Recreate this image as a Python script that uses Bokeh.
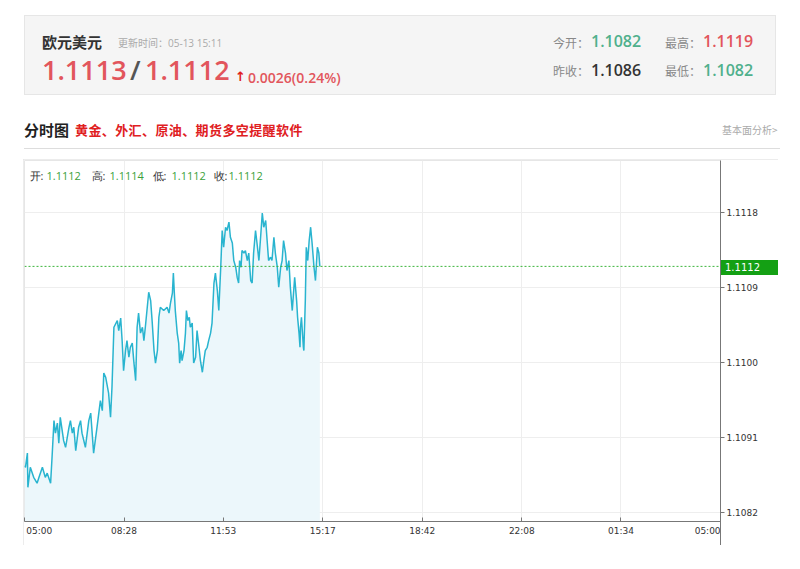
from bokeh.plotting import figure
from bokeh.models import Range1d, FixedTicker, Span, Label, Div, Spacer
from bokeh.layouts import column, row
from bokeh.embed import file_html
from bokeh.resources import INLINE

# ---------------- data ----------------
pair_name = "欧元美元"
update_time = "05-13 15:11"
bid_price = "1.1113"
ask_price = "1.1112"
change_txt = "0.0026(0.24%)"
open_today = "1.1082"
high_today = "1.1119"
prev_close = "1.1086"
low_today = "1.1082"

bar_open, bar_high, bar_low, bar_close = "1.1112", "1.1114", "1.1112", "1.1112"
last_price = 1.11115
last_price_label = "1.1112"

# minutes after 05:00
minutes = [0, 2, 6, 7, 12, 19, 26, 30, 37, 43,
           47, 54, 57, 61, 64, 68, 71, 74, 81, 85,
           92, 95, 99, 102, 106, 112, 116, 119, 126, 133,
           137, 140, 143, 150, 157, 161, 164, 168, 174, 178,
           181, 185, 192, 195, 199, 202, 205, 209, 212, 216,
           219, 223, 226, 230, 233, 236, 240, 244, 247, 250,
           257, 261, 264, 268, 271, 275, 278, 281, 288, 295,
           299, 302, 306, 308, 310, 312, 316, 319, 321, 324,
           326, 330, 333, 335, 338, 341, 343, 347, 350, 354,
           357, 361, 364, 368, 371, 374, 378, 381, 385, 388,
           392, 395, 399, 402, 406, 409, 412, 416, 419, 423,
           426, 430, 433, 437, 440, 443, 445, 448, 450, 454,
           457, 461, 464, 468, 471, 474, 478, 481, 485, 488,
           492, 495, 499, 502, 505, 509, 512, 516, 519, 523,
           526, 530, 533, 536, 540, 543, 547, 550, 554, 557,
           559, 563, 565, 568, 570, 571, 573, 577, 578, 581,
           583, 586, 589, 592, 595, 599, 602, 606, 609, 611]
prices = [1.10876, 1.10874, 1.10891, 1.10850, 1.10874, 1.10862, 1.10855, 1.10862, 1.10874, 1.10862,
          1.10867, 1.10855, 1.10886, 1.10930, 1.10915, 1.10927, 1.10903, 1.10934, 1.10906, 1.10898,
          1.10922, 1.10930, 1.10915, 1.10922, 1.10894, 1.10922, 1.10930, 1.10915, 1.10898, 1.10930,
          1.10939, 1.10915, 1.10891, 1.10922, 1.10954, 1.10942, 1.10987, 1.10982, 1.10963, 1.10934,
          1.10970, 1.11042, 1.11050, 1.11038, 1.11053, 1.11026, 1.10990, 1.11014, 1.11026, 1.11006,
          1.11018, 1.11023, 1.11002, 1.10978, 1.11042, 1.11059, 1.11035, 1.11042, 1.11026, 1.11042,
          1.11084, 1.11074, 1.11050, 1.11014, 1.10999, 1.11014, 1.11054, 1.11066, 1.11062, 1.11066,
          1.11059, 1.11071, 1.11083, 1.11107, 1.11083, 1.11062, 1.11035, 1.11023, 1.10999, 1.11014,
          1.11002, 1.11014, 1.11035, 1.11062, 1.11050, 1.11054, 1.11042, 1.11047, 1.10999, 1.11006,
          1.11038, 1.11018, 1.11002, 1.10988, 1.11002, 1.11014, 1.11018, 1.11026, 1.11035, 1.11047,
          1.11095, 1.11107, 1.11086, 1.11062, 1.11114, 1.11158, 1.11138, 1.11162, 1.11158, 1.11168,
          1.11150, 1.11143, 1.11122, 1.11114, 1.11102, 1.11095, 1.11122, 1.11114, 1.11134, 1.11131,
          1.11134, 1.11122, 1.11131, 1.11098, 1.11095, 1.11131, 1.11158, 1.11143, 1.11122, 1.11146,
          1.11179, 1.11162, 1.11170, 1.11146, 1.11122, 1.11126, 1.11122, 1.11150, 1.11131, 1.11114,
          1.11090, 1.11114, 1.11122, 1.11146, 1.11131, 1.11110, 1.11122, 1.11090, 1.11062, 1.11086,
          1.11102, 1.11074, 1.11054, 1.11035, 1.11018, 1.11042, 1.11054, 1.11018, 1.11014, 1.11074,
          1.11138, 1.11122, 1.11146, 1.11162, 1.11143, 1.11114, 1.11098, 1.11138, 1.11131, 1.11115]

x_tick_pos = [0, 206, 411, 617, 823, 1029, 1234, 1440]
x_tick_labels = ["05:00", "08:28", "11:53", "15:17", "18:42", "22:08", "01:34", "05:00"]
y_ticks = [1.1082, 1.1091, 1.1100, 1.1109, 1.1118]
y_tick_labels = ["1.1082", "1.1091", "1.1100", "1.1109", "1.1118"]
y_lo, y_hi = 1.10809, 1.11242

# ---------------- colours / fonts ----------------
RED = "#e2555c"
TEAL = "#4fb08c"
CJK = "'Noto Sans CJK SC'"
LAT = "'Open Sans','Noto Sans CJK SC',sans-serif"
NBSP = "\u00a0"


def span(left, top, text, size, color, weight="normal", lh=None, family=LAT, extra=""):
    lh = lh or int(size * 1.3)
    return (f"<span style=\"position:absolute;left:{left}px;top:{top}px;font-size:{size}px;"
            f"line-height:{lh}px;color:{color};font-weight:{weight};font-family:{family};white-space:nowrap;{extra}\">"
            f"{text}</span>")


html = [f"<div style=\"position:relative;width:792px;height:159px;font-family:{LAT};\">"]
html.append("<div style=\"position:absolute;left:24px;top:15px;width:752px;height:80px;"
            "background:#f5f5f5;border:1px solid #e6e6e6;\"></div>")
html.append(span(42, 32, pair_name, 15, "#333", "bold", 20, CJK))
html.append(span(118, 36, "更新时间：" + update_time, 10, "#aaa", "normal", 14, LAT))
html.append(span(42, 54, bid_price, 27, RED, "600", 32))
html.append(span(130, 54, "/", 27, "#555", "600", 32))
html.append(span(145, 54, ask_price, 27, RED, "600", 32))
html.append(span(235, 69, "↑", 13, "#e02020", "bold", 16, "'DejaVu Sans'"))
html.append(span(248, 69, change_txt, 14, RED, "600", 18))
html.append(span(553, 35, "今开：", 12, "#888", "normal", 16, CJK))
html.append(span(591, 31, open_today, 16, TEAL, "600", 20))
html.append(span(665, 35, "最高：", 12, "#888", "normal", 16, CJK))
html.append(span(703, 31, high_today, 16, RED, "600", 20))
html.append(span(553, 63, "昨收：", 12, "#888", "normal", 16, CJK))
html.append(span(591, 60, prev_close, 16, "#333", "600", 20))
html.append(span(665, 63, "最低：", 12, "#888", "normal", 16, CJK))
html.append(span(703, 60, low_today, 16, TEAL, "600", 20))
html.append(span(24, 121, "分时图", 15, "#222", "bold", 18, CJK))
html.append(span(75, 122, "黄金、外汇、原油、期货多空提醒软件", 13, "#e0201f", "bold", 16, CJK,
                 "letter-spacing:0.4px;"))
html.append(span(722, 123, "基本面分析>", 10, "#aaa", "normal", 14, CJK))
html.append("<div style=\"position:absolute;left:24px;top:148px;width:756px;height:1px;background:#dddddd;\"></div>")
# last-price tag beside the right axis (drawn above the chart canvas)
html.append("<div style=\"position:absolute;left:721px;top:260px;width:57px;height:15px;background:#14a014;\"></div>")
html.append(span(725, 260, last_price_label, 10, "#ffffff", "normal", 15, "'DejaVu Sans'"))
# right axis line continuing below the time axis
html.append("<div style=\"position:absolute;left:720px;top:521px;width:1px;height:24px;background:#777777;\"></div>")
html.append("</div>")
header = Div(text="".join(html), width=792, height=159, margin=(0, 0, 0, 0),
             styles={"position": "relative", "z-index": "10", "overflow": "visible"})

# ---------------- chart ----------------
p = figure(width=755, height=386, x_range=Range1d(0, 1440), y_range=Range1d(y_lo, y_hi),
           output_backend="svg", toolbar_location=None, y_axis_location="right",
           min_border_left=1, min_border_top=1, min_border_right=58, min_border_bottom=24,
           margin=(0, 0, 0, 0))
p.styles = {"outline": "1px solid #e6e6e6", "outline-offset": "-1px"}
p.outline_line_color = "#e6e6e6"
p.background_fill_color = "white"

p.varea(x=minutes, y1=y_lo, y2=prices, fill_color="#ecf7fb", fill_alpha=1.0)
p.line(minutes, prices, line_color="#29b4cf", line_width=1.5)

p.add_layout(Span(location=last_price, dimension="width", line_color="#3cb53c",
                  line_dash="2 2", line_width=1))

# first / last time labels sit flush with the plot edges (padded with no-break spaces)
x_labels_shown = list(x_tick_labels)
x_labels_shown[0] = NBSP + x_tick_labels[0]
x_labels_shown[-1] = x_tick_labels[-1] + NBSP * 9

p.xaxis.ticker = FixedTicker(ticks=x_tick_pos)
p.xaxis.major_label_overrides = {pos: lab for pos, lab in zip(x_tick_pos, x_labels_shown)}
p.yaxis.ticker = FixedTicker(ticks=y_ticks)
p.yaxis.major_label_overrides = {t: lab for t, lab in zip(y_ticks, y_tick_labels)}
p.xgrid.ticker = FixedTicker(ticks=x_tick_pos)
p.ygrid.ticker = FixedTicker(ticks=y_ticks)
p.xgrid.grid_line_color = "#eeeeee"
p.ygrid.grid_line_color = "#eeeeee"

for ax in (p.xaxis[0], p.yaxis[0]):
    ax.axis_line_color = "#777777"
    ax.major_tick_line_color = "#777777"
    ax.minor_tick_line_color = None
    ax.major_label_text_font = "DejaVu Sans"
    ax.major_label_text_font_size = "9px"
    ax.major_label_text_color = "#333333"
p.xaxis.major_tick_in = 4
p.xaxis.major_tick_out = 0
p.xaxis.major_label_standoff = 4
p.yaxis.major_tick_in = 0
p.yaxis.major_tick_out = 4
p.yaxis.major_label_standoff = 2

# OHLC info line
info = [("开:", "#333333", 5), (bar_open, "#3a9f3a", 22),
        ("高:", "#333333", 67), (bar_high, "#3a9f3a", 85),
        ("低:", "#333333", 128), (bar_low, "#3a9f3a", 147),
        ("收:", "#333333", 189), (bar_close, "#3a9f3a", 204)]
for txt, col, off in info:
    p.add_layout(Label(x=0, y=y_hi, text=txt, x_offset=off, y_offset=-15, text_baseline="middle",
                       text_align="left", text_font="Open Sans", text_font_size="11px",
                       text_color=col))

layout = column(header, row(Spacer(width=23, height=386), p, spacing=0), spacing=0)

open("out.html", "w").write(file_html(layout, INLINE))
